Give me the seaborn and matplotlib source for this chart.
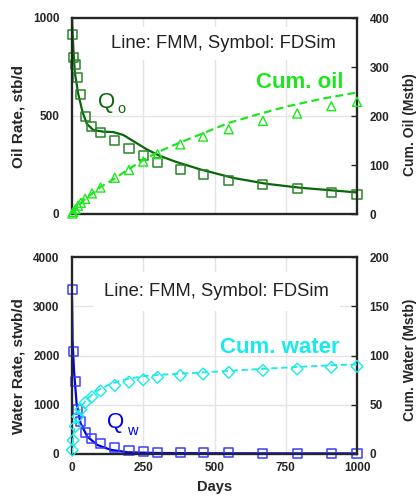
import numpy as np
import pandas as pd
import matplotlib
matplotlib.use("Agg")
import matplotlib.pyplot as plt
import seaborn as sns

# ---------------- data ----------------
# FDSim (symbols)
days_sim = [1, 4, 12, 21, 31, 46, 70, 100, 150, 200, 250, 300, 380, 460, 550, 670, 790, 910, 1000]
qo_sim = [917, 799, 764, 696, 612, 499, 446, 415, 376, 334, 296, 264, 226, 199, 173, 148, 128, 112, 100]
cum_oil_sim = [1, 4, 10, 17, 23, 31, 42, 54, 74, 90, 107, 122, 142, 158, 173, 190, 205, 220, 229]
qw_sim = [3330, 2080, 1470, 900, 660, 440, 310, 210, 125, 80, 50, 40, 28, 25, 22, 20, 20, 18, 18]
cum_water_sim = [4, 14, 28, 38, 45, 52, 58, 64, 69.6, 73, 75.4, 77.8, 79.8, 81.2, 82.9, 84.9, 86.2, 88, 89]

# FMM (lines)
days_qo_fmm = [0, 2, 5, 10, 22, 37, 52, 75, 110, 145, 180, 215, 262, 309, 367, 449, 566, 683, 800, 917, 1000]
qo_fmm = [1000, 930, 840, 720, 612, 520, 460, 428, 420, 418, 403, 372, 330, 296, 265, 228, 184, 154, 134, 120, 110]
days_co_fmm = [0, 10, 28, 50, 75, 100, 151, 200, 250, 300, 379, 461, 550, 650, 750, 875, 1000]
cum_oil_fmm = [0, 8, 20, 33, 43, 55, 73, 92, 110, 126, 146, 165, 186, 203, 219, 235, 248]
days_qw_fmm = [0, 2, 7, 16, 30, 54, 89, 136, 194, 300, 500, 750, 1000]
qw_fmm = [3150, 2300, 1700, 1030, 624, 352, 183, 85, 35, 20, 15, 13, 12]
days_cw_fmm = [0, 2, 5, 10, 20, 30, 50, 87, 133, 192, 250, 309, 379, 461, 566, 683, 800, 917, 1000]
cum_water_fmm = [0, 10, 20, 30, 40, 47, 55, 64, 71, 76, 79, 80.5, 81.5, 82.8, 84.7, 86.7, 88.5, 90.2, 91]

x_ticks = [0, 250, 500, 750, 1000]

# ---------------- style ----------------
sns.set_theme(style="white")
plt.rcParams["font.family"] = ["Liberation Sans", "DejaVu Sans"]
plt.rcParams["font.weight"] = "bold"
plt.rcParams["axes.linewidth"] = 1.5

C_QO = "#0b650b"
C_QO_M = "#2a842a"
C_CO = "#1ee61e"
C_QW = "#0000f0"
C_QW_M = "#3c3cff"
C_CW = "#19eaea"
GRID = "#e4e4e4"

fig = plt.figure(figsize=(4.17, 4.96), dpi=100)
W, H = 417, 496


def add_axes(x0, y0, x1, y1):
    return fig.add_axes([x0 / W, 1 - y1 / H, (x1 - x0) / W, (y1 - y0) / H])


ax1 = add_axes(72, 18, 357, 214)
ax3 = add_axes(72, 257, 357, 454)

df_sim = pd.DataFrame({"days": days_sim, "qo": qo_sim, "co": cum_oil_sim,
                       "qw": qw_sim, "cw": cum_water_sim})


def style_axes(ax, left_lim, left_ticks, hgrid):
    ax.set_xlim(0, 1000)
    ax.set_ylim(*left_lim)
    ax.set_xticks(x_ticks)
    ax.set_yticks(left_ticks)
    for xv in [250, 500, 750]:
        ax.axvline(xv, color=GRID, lw=1.0, zorder=0)
    for yv in hgrid:
        ax.axhline(yv, color=GRID, lw=1.0, zorder=0)
    ax.tick_params(axis="both", direction="in", length=0, labelsize=8.5, pad=9)
    for s in ax.spines.values():
        s.set_color("black")
        s.set_linewidth(1.6)


MS = 42

# ---------------- top: oil ----------------
style_axes(ax1, (0, 1000), [0, 500, 1000], [500])
ax1.set_xticklabels([])
sns.lineplot(x=days_qo_fmm, y=qo_fmm, ax=ax1, color=C_QO, lw=1.6, zorder=3)
sns.scatterplot(data=df_sim, x="days", y="qo", ax=ax1, marker="s", s=MS,
                facecolor="none", edgecolor=C_QO_M, linewidth=1.1, zorder=4, clip_on=False)
ax1.set_ylabel("Oil Rate, stb/d", fontsize=11, fontweight="bold", va="center")
ax1.yaxis.set_label_coords(-0.186, 0.5)
ax1.set_xlabel("")

ax2 = ax1.twinx()
ax2.set_ylim(0, 400)
ax2.set_yticks([0, 100, 200, 300, 400])
sns.lineplot(x=days_co_fmm, y=cum_oil_fmm, ax=ax2, color=C_CO, lw=1.6,
             linestyle=(0, (3.5, 2)), zorder=3)
sns.scatterplot(data=df_sim, x="days", y="co", ax=ax2, marker="^", s=MS,
                facecolor="none", edgecolor=C_CO, linewidth=1.0, zorder=4, clip_on=False)
ax2.tick_params(axis="y", direction="in", length=4, width=1, labelsize=8.5, pad=9)
ax2.set_ylabel("Cum. Oil (Mstb)", fontsize=10, fontweight="bold", rotation=90, va="center")
ax2.yaxis.set_label_coords(1.186, 0.454)
ax2.set_xlabel("")
ax2.set_xlim(0, 1000)

ax1.text(531, 847, "Line: FMM, Symbol: FDSim", fontsize=13.2, fontweight="normal",
         color="#222222", ha="center", va="baseline", zorder=2,
         bbox=dict(facecolor="white", edgecolor="none", pad=6))
ax1.text(91, 541, "Q", fontsize=16, fontweight="normal", color=C_QO, ha="left", va="baseline")
ax1.text(158, 515, "o", fontsize=10.5, fontweight="normal", color=C_QO, ha="left", va="baseline")
ax1.text(951, 643, "Cum. oil", fontsize=16, fontweight="bold", color=C_CO, ha="right", va="baseline")

# ---------------- bottom: water ----------------
style_axes(ax3, (0, 4000), [0, 1000, 2000, 3000, 4000], [1000, 2000, 3000])
sns.lineplot(x=days_qw_fmm, y=qw_fmm, ax=ax3, color=C_QW, lw=1.6, zorder=3)
sns.scatterplot(data=df_sim, x="days", y="qw", ax=ax3, marker="s", s=MS,
                facecolor="none", edgecolor=C_QW_M, linewidth=1.1, zorder=4, clip_on=False)
ax3.set_ylabel("Water Rate, stwb/d", fontsize=11, fontweight="bold", va="center")
ax3.yaxis.set_label_coords(-0.186, 0.447)
ax3.set_xlabel("Days", fontsize=10.5, fontweight="bold", labelpad=4)

ax4 = ax3.twinx()
ax4.set_ylim(0, 200)
ax4.set_yticks([0, 50, 100, 150, 200])
sns.lineplot(x=days_cw_fmm, y=cum_water_fmm, ax=ax4, color=C_CW, lw=1.3,
             linestyle=(0, (3.5, 2)), zorder=3)
sns.scatterplot(data=df_sim, x="days", y="cw", ax=ax4, marker="D", s=36,
                facecolor="none", edgecolor=C_CW, linewidth=1.0, zorder=4, clip_on=False)
ax4.tick_params(axis="y", direction="in", length=4, width=1, labelsize=8.5, pad=9)
ax4.set_ylabel("Cum. Water (Mstb)", fontsize=10, fontweight="bold", rotation=90, va="center")
ax4.yaxis.set_label_coords(1.186, 0.478)
ax4.set_xlabel("")
ax4.set_xlim(0, 1000)

ax3.tick_params(axis="x", pad=6)
ax3.text(507, 3207, "Line: FMM, Symbol: FDSim", fontsize=13.2, fontweight="normal",
         color="#222222", ha="center", va="baseline", zorder=2,
         bbox=dict(facecolor="white", edgecolor="none", pad=8))
ax3.text(123, 529, "Q", fontsize=16, fontweight="normal", color=C_QW, ha="left", va="baseline")
ax3.text(193, 386, "w", fontsize=10.5, fontweight="normal", color=C_QW, ha="left", va="baseline")
ax3.text(940, 2054, "Cum. water", fontsize=16, fontweight="bold", color=C_CW, ha="right", va="baseline")

for ax in (ax1, ax2, ax3, ax4):
    for lab in ax.get_xticklabels() + ax.get_yticklabels():
        lab.set_fontweight("bold")

fig.savefig("out.png", dpi=100)
